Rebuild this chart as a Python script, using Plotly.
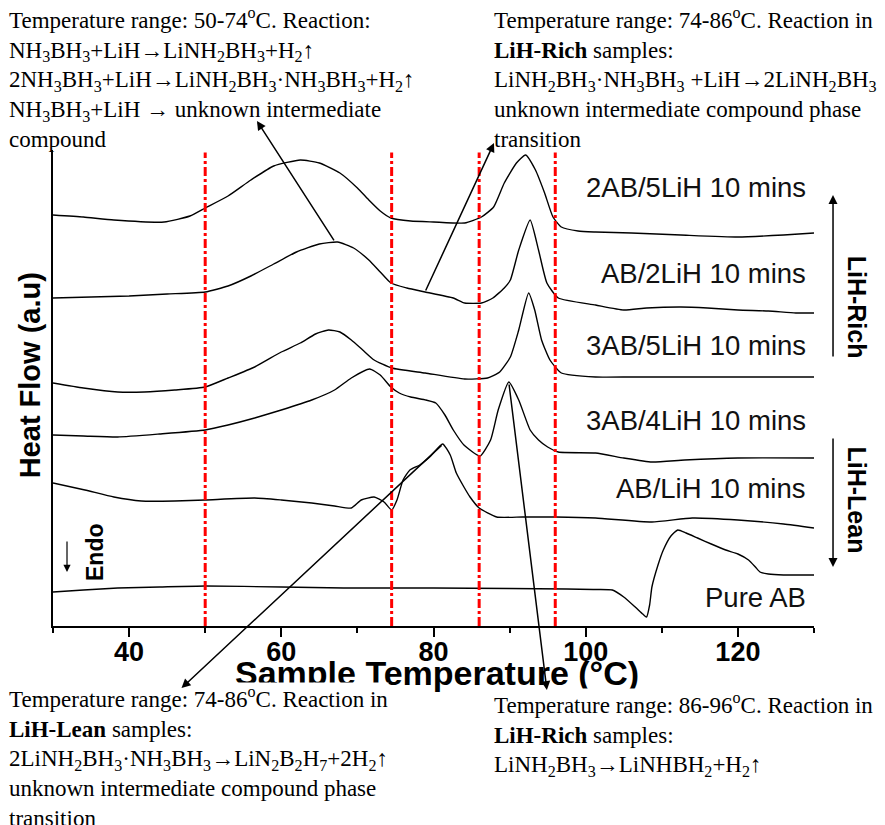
import plotly.graph_objects as go

# ---------------- data ----------------
labels = ["2AB/5LiH 10 mins", "AB/2LiH 10 mins", "3AB/5LiH 10 mins",
          "3AB/4LiH 10 mins", "AB/LiH 10 mins", "Pure AB"]

t_2ab5lih = [30, 34, 38, 44.6, 48, 50, 53, 56, 59, 62.5, 65, 67.7, 70, 71.5, 73, 74.4, 77, 80,
             84.1, 86.3, 87.9, 89.3, 90.9, 92.1, 93.4, 94.6, 95.7, 96.8, 99, 101.3, 106, 112.5,
             120, 126, 130]
hf_2ab5lih = [411, 409, 406, 404, 410, 418, 430, 446, 460, 466, 463, 453, 438, 426, 415, 408, 405,
              404, 403, 409, 419, 443, 463, 471, 456, 433, 409, 399, 395, 394, 393, 391, 389, 391, 393]

t_ab2lih = [30, 35, 40, 45, 50, 53, 56, 59, 62, 65, 67.4, 69.5, 71.5, 73, 74.4, 76.5, 78.9, 82.6,
            84.1, 86.3, 87.8, 89.3, 90.1, 91.2, 92.7, 93.8, 94.9, 96.4, 101.3, 105, 108, 112.5,
            116, 120, 124, 127.6, 130]
hf_ab2lih = [328, 329, 330, 332, 334, 340, 350, 362, 374, 382, 384, 378, 366, 354, 343, 338, 334,
             328, 323, 323, 328, 338, 346, 376, 406, 376, 343, 328, 321, 316, 318, 319, 318, 316,
             315, 313, 313]

t_3ab5lih = [30, 34, 38.5, 42, 46, 50, 53, 56.5, 60, 62.5, 64.5, 66.2, 67.7, 69.2, 70.7, 72.2,
             74.5, 78.9, 84.1, 87.1, 88.7, 90.1, 91.2, 92.5, 93.3, 94.2, 95.3, 96.8, 101.3, 106,
             112.5, 120, 130]
hf_3ab5lih = [243, 238, 234, 234, 236, 239, 248, 259, 274, 283, 292, 296, 294, 286, 276, 266, 258,
              253, 247, 248, 254, 269, 296, 333, 316, 286, 266, 253, 249, 249, 249, 249, 249]

t_3ab4lih = [30, 34, 38.5, 44, 50, 53, 56.5, 60, 64, 67, 69.2, 71.6, 73, 74.4, 75.5, 77, 79, 80.3,
             81.5, 82.6, 84, 86.1, 87.5, 88.5, 89.9, 91.2, 92.7, 93.8, 95, 96.4, 101.3, 105,
             108.7, 113, 120, 130]
hf_3ab4lih = [191, 190, 189, 192, 196, 201, 208, 216, 226, 236, 248, 257, 251, 239, 233, 229, 226,
              223, 211, 196, 181, 170, 186, 216, 244, 226, 196, 186, 179, 174, 173, 168, 164, 166,
              168, 168]

t_ablih = [30, 34.2, 38, 41.6, 46, 50, 56.5, 60, 64, 67, 69.2, 70.5, 72.2, 73.5, 74.5, 75.2, 76,
           76.9, 78.2, 79.5, 81.2, 82.2, 83, 84, 84.8, 86, 88.3, 91.7, 96, 101.3, 108.7, 114,
           120, 126, 130]
hf_ablih = [143, 136, 129, 125, 125, 126, 128, 126, 123, 120, 118, 126, 129, 124, 116, 126, 146,
            156, 161, 169, 182, 171, 153, 139, 129, 118, 109, 109, 109, 108, 104, 108, 106, 102, 98]

t_pureab = [30, 34, 38.5, 44, 50, 60, 68.2, 80, 90, 97.5, 101, 103.5, 105, 106.5, 107.5, 108,
            108.4, 108.7, 109.5, 110.2, 111.2, 112.1, 113.2, 114.7, 116.5, 118.4, 120, 121.4,
            122.3, 122.9, 124, 126, 130]
hf_pureab = [34, 36, 38, 39, 40, 39, 38, 38, 37.5, 37, 36.5, 36, 29, 19, 12, 9, 21, 39, 61, 76,
             90, 96, 93, 88, 82, 76, 72, 66, 59, 54, 52, 51, 51]

label_y = [439, 353, 281, 206, 138, 29]
range_lines = [50, 74.5, 86, 96]
x_ticks = [40, 60, 80, 100, 120]

series = [(t_2ab5lih, hf_2ab5lih), (t_ab2lih, hf_ab2lih), (t_3ab5lih, hf_3ab5lih),
          (t_3ab4lih, hf_3ab4lih), (t_ablih, hf_ablih), (t_pureab, hf_pureab)]

# ---------------- figure ----------------
fig = go.Figure()
for name, (t, hf) in zip(labels, series):
    fig.add_trace(go.Scatter(x=t, y=hf, mode="lines", name=name,
                             line=dict(color="black", width=1.4, shape="spline", smoothing=0.5),
                             showlegend=False))

for xv in range_lines:
    fig.add_shape(type="line", xref="x", yref="paper", x0=xv, x1=xv, y0=0, y1=0.995,
                  line=dict(color="#ff0000", width=3, dash="dashdot"))

SERIF = "Liberation Serif, Times New Roman, serif"
SANS = "Liberation Sans, Arial, sans-serif"

annotations = []
for name, ly in zip(labels, label_y):
    annotations.append(dict(x=129.2, y=ly, xref="x", yref="y", text=name, showarrow=False,
                            xanchor="right", yanchor="middle",
                            font=dict(family=SANS, size=27.5, color="#111111")))

# axis titles
annotations.append(dict(x=0.5046, y=-0.099, xref="paper", yref="paper",
                        text="Sample Temperature (°C)", showarrow=False,
                        xanchor="center", yanchor="middle",
                        font=dict(family=SANS, size=34, color="black", weight="bold")))
annotations.append(dict(x=-0.030, y=0.527, xref="paper", yref="paper",
                        text="Heat Flow (a.u)", showarrow=False, textangle=-90,
                        xanchor="center", yanchor="middle",
                        font=dict(family=SANS, size=29, color="black", weight="bold")))

# side labels
annotations.append(dict(x=1.057, y=0.67, xref="paper", yref="paper", text="LiH-Rich",
                        showarrow=False, textangle=90, xanchor="center", yanchor="middle",
                        font=dict(family=SANS, size=25, color="black", weight="bold")))
annotations.append(dict(x=1.057, y=0.265, xref="paper", yref="paper", text="LiH-Lean",
                        showarrow=False, textangle=90, xanchor="center", yanchor="middle",
                        font=dict(family=SANS, size=25, color="black", weight="bold")))
annotations.append(dict(x=0.0552, y=0.1555, xref="paper", yref="paper", text="Endo",
                        showarrow=False, textangle=-90, xanchor="center", yanchor="middle",
                        font=dict(family=SANS, size=23, color="black", weight="bold")))

# arrows (head in paper coords, tail offset in px)
def arrow(x, y, ax, ay, w=1.5):
    return dict(x=x, y=y, xref="paper", yref="paper", ax=ax, ay=ay, text="", showarrow=True,
                arrowhead=2, arrowsize=1.2, arrowwidth=w, arrowcolor="black", standoff=0,
                startstandoff=0)

annotations.append(arrow(1.025, 0.9055, 0, 163))
annotations.append(arrow(1.025, 0.124, 0, -130))
annotations.append(arrow(0.0184, 0.1134, 0, -32, 1.2))

# reaction text blocks
tl = ("Temperature range: 50-74<sup>o</sup>C. Reaction:<br>"
      "NH<sub>3</sub>BH<sub>3</sub>+LiH→LiNH<sub>2</sub>BH<sub>3</sub>+H<sub>2</sub>↑<br>"
      "2NH<sub>3</sub>BH<sub>3</sub>+LiH→LiNH<sub>2</sub>BH<sub>3</sub>·NH<sub>3</sub>BH<sub>3</sub>+H<sub>2</sub>↑<br>"
      "NH<sub>3</sub>BH<sub>3</sub>+LiH → unknown intermediate<br>"
      "compound")
tr = ("Temperature range: 74-86<sup>o</sup>C. Reaction in<br>"
      "<b>LiH-Rich</b> samples:<br>"
      "LiNH<sub>2</sub>BH<sub>3</sub>·NH<sub>3</sub>BH<sub>3</sub> +LiH→2LiNH<sub>2</sub>BH<sub>3</sub><br>"
      "unknown intermediate compound phase<br>"
      "transition")
bl = ("Temperature range: 74-86<sup>o</sup>C. Reaction in<br>"
      "<b>LiH-Lean</b> samples:<br>"
      "2LiNH<sub>2</sub>BH<sub>3</sub>·NH<sub>3</sub>BH<sub>3</sub>→LiN<sub>2</sub>B<sub>2</sub>H<sub>7</sub>+2H<sub>2</sub>↑<br>"
      "unknown intermediate compound phase<br>"
      "transition")
br = ("Temperature range: 86-96<sup>o</sup>C. Reaction in<br>"
      "<b>LiH-Rich</b> samples:<br>"
      "LiNH<sub>2</sub>BH<sub>3</sub>→LiNHBH<sub>2</sub>+H<sub>2</sub>↑")

def block(txt, x, y, bg=None):
    d = dict(x=x, y=y, xref="paper", yref="paper", text=txt, showarrow=False, align="left",
             xanchor="left", yanchor="top", font=dict(family=SERIF, size=23, color="black"),
             borderpad=0)
    if bg:
        d["bgcolor"] = bg
    return d

annotations.append(block(tl, -0.0591, 1.3088))
annotations.append(block(tr, 0.578, 1.3088))
annotations.append(block(bl, -0.0591, -0.1176, "white"))
annotations.append(block(br, 0.578, -0.130, "white"))

annotations.append(arrow(0.268, 1.061, 78, 121))
annotations.append(arrow(0.5795, 1.0147, -69, 149))
annotations.append(arrow(0.1689, -0.1303, 261.5, -244))
annotations.append(arrow(0.649, -0.1345, -38, -307))

fig.update_layout(
    width=885, height=825,
    margin=dict(l=53, r=71, t=150, b=199),
    paper_bgcolor="white", plot_bgcolor="white",
    annotations=annotations,
    xaxis=dict(range=[30, 130], tickvals=x_ticks, showline=True, linecolor="black", linewidth=2,
               ticks="outside", ticklen=9, tickwidth=2, tickcolor="black",
               ticklabelstandoff=-8,
               minor=dict(dtick=10, tick0=30, ticks="outside", ticklen=5, tickwidth=2,
                          tickcolor="black", showgrid=False),
               showgrid=False, zeroline=False,
               tickfont=dict(family=SANS, size=27, color="black", weight="bold")),
    yaxis=dict(range=[0, 476], showline=True, linecolor="black", linewidth=2, ticks="",
               showticklabels=False, showgrid=False, zeroline=False),
)

fig.write_html("out.html")
